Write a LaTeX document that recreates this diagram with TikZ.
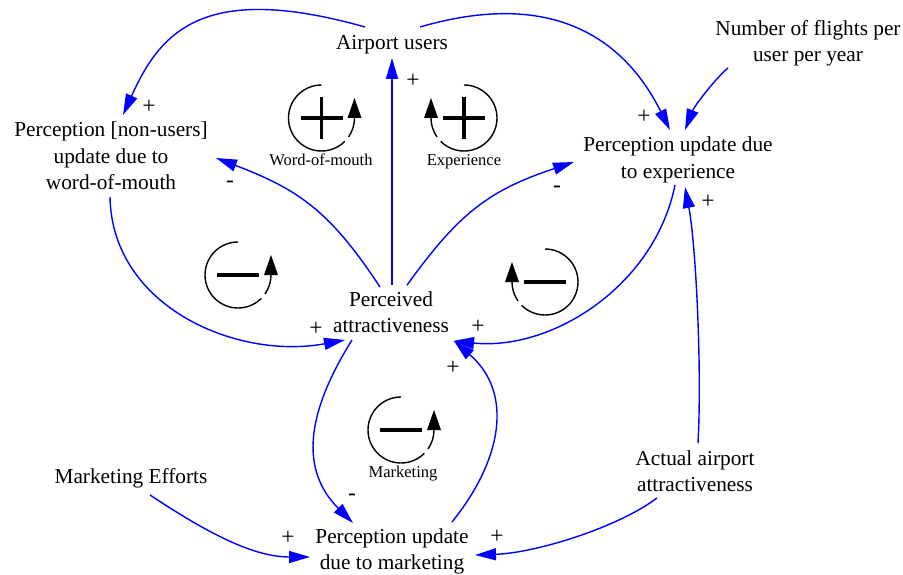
\documentclass[tikz,border=0pt]{standalone}
\usepackage{fontspec}
\setmainfont{Liberation Serif}
\usetikzlibrary{arrows.meta}

% loop symbols: open circle with an arrowhead, counter-clockwise or clockwise
\newcommand{\loopccw}[1]{%
  \draw[loopline] ([shift={(90:33pt)}]#1) arc[start angle=90,end angle=315,radius=33pt];
  \draw[loopline] ([shift={(325:33pt)}]#1) arc[start angle=325,end angle=360,radius=33pt];
  \fill ([shift={(26pt,0pt)}]#1) -- ++(14pt,0pt) -- ++(-7pt,20pt) -- cycle;}
\newcommand{\loopcw}[1]{%
  \draw[loopline] ([shift={(90:33pt)}]#1) arc[start angle=90,end angle=-135,radius=33pt];
  \draw[loopline] ([shift={(-145:33pt)}]#1) arc[start angle=-145,end angle=-180,radius=33pt];
  \fill ([shift={(-40pt,0pt)}]#1) -- ++(14pt,0pt) -- ++(-7pt,20pt) -- cycle;}
\newcommand{\signplus}[1]{%
  \draw[polsign] ([shift={(-21pt,0pt)}]#1) -- ++(42pt,0pt);
  \draw[polsign] ([shift={(0pt,-21pt)}]#1) -- ++(0pt,42pt);}
\newcommand{\signminus}[1]{%
  \draw[polsign] ([shift={(-21pt,0pt)}]#1) -- ++(42pt,0pt);}

\begin{document}
\begin{tikzpicture}[x=1pt,y=-1pt,
  var/.style={align=center,inner sep=0pt,font=\fontsize{21.3}{26.5}\selectfont},
  link/.style={draw=blue,line width=1.4pt,-{Triangle[length=21pt,width=12pt]}},
  pol/.style={font=\fontsize{23.5}{26.5}\selectfont,inner sep=0pt},
  looplabel/.style={font=\fontsize{16.5}{20}\selectfont,inner sep=0pt,anchor=base},
  loopline/.style={line width=1.4pt},
  polsign/.style={line width=3.2pt},
]
\useasboundingbox (0,0) rectangle (903,575);

% variables
\node[var] (users)     at (392,45.2)  {Airport users};
\node[var] (flights)   at (808,43.4)  {Number of flights per\\user per year};
\node[var] (nonusers)  at (111,156.2) {Perception [non-users]\\update due to\\word-of-mouth};
\node[var] (exp)       at (678,160)   {Perception update due\\to experience};
\node[var] (perceived) at (391,312.2) {Perceived\\attractiveness};
\node[var] (mkteff)    at (131,478.5) {Marketing Efforts};
\node[var] (mkt)       at (392,551.4) {Perception update\\due to marketing};
\node[var] (actual)    at (695,471.2) {Actual airport\\attractiveness};

% causal links
\draw[link] ([shift={(-27,-18.2)}]users.center) .. controls (202,-19) and (160,33) .. ([shift={(12,-41.2)}]nonusers.center);
\draw[link] ([shift={(28,-18.2)}]users.center) .. controls (554,-12) and (625,40) .. ([shift={(-8,-30)}]exp.center);
\draw[link] ([shift={(-80,24.6)}]flights.center) .. controls (713,81) and (694,107) .. ([shift={(7,-30)}]exp.center);
\draw[link] ([shift={(1,-27.2)}]perceived.center) -- ([shift={(0,12.8)}]users.center);
\draw[link] ([shift={(-11,-25.2)}]perceived.center) .. controls (330.5,212) and (300,190) .. ([shift={(105,1.8)}]nonusers.center);
\draw[link] ([shift={(16,-27)}]perceived.center) .. controls (459.5,212) and (490,190) .. ([shift={(-104,2)}]exp.center);
\draw[link] ([shift={(-1,40.8)}]nonusers.center) .. controls (112,307) and (237,360) .. ([shift={(-46,27.8)}]perceived.center);
\draw[link] ([shift={(-3,25)}]exp.center) .. controls (655,285) and (553,351) .. ([shift={(62,28.8)}]perceived.center);
\draw[link] ([shift={(-39,27.8)}]perceived.center) .. controls (309.6,408) and (297,467) .. ([shift={(-39,-28.4)}]mkt.center);
\draw[link] ([shift={(60,-29.4)}]mkt.center) .. controls (502,460) and (514,393) .. ([shift={(63,28.8)}]perceived.center);
\draw[link] ([shift={(19,16.5)}]mkteff.center) .. controls (200,528) and (250,557) .. ([shift={(-82,5.6)}]mkt.center);
\draw[link] ([shift={(-38,26.8)}]actual.center) .. controls (617,528) and (535,553) .. ([shift={(83,3.6)}]mkt.center);
\draw[link] ([shift={(3,-28.2)}]actual.center) .. controls (702,370) and (696,245) .. ([shift={(7,27)}]exp.center);

% link polarities
\node[pol] (p1)  at (149,107) {+};
\node[pol] (p2)  at (413,81)  {+};
\node[pol] (p3)  at (644,117) {+};
\node[pol] (p4)  at (708,202) {+};
\node[pol] (p5)  at (230,184) {-};
\node[pol] (p6)  at (557,189) {-};
\node[pol] (p7)  at (316,329) {+};
\node[pol] (p8)  at (478,327) {+};
\node[pol] (p9)  at (453,368) {+};
\node[pol] (p10) at (352,497) {-};
\node[pol] (p11) at (288,538) {+};
\node[pol] (p12) at (497,537) {+};

% feedback loops
\coordinate (womloop) at (321.5,118);
\coordinate (exploop) at (464,118);
\coordinate (bleft)   at (238,275);
\coordinate (bright)  at (545,282);
\coordinate (mktloop) at (401,430);

\loopccw{womloop} \signplus{womloop}
\loopcw{exploop}  \signplus{exploop}
\loopccw{bleft}   \signminus{bleft}
\loopcw{bright}   \signminus{bright}
\loopccw{mktloop} \signminus{mktloop}

\node[looplabel] (womlabel) at (321,166) {Word-of-mouth};
\node[looplabel] (explabel) at (464,166) {Experience};
\node[looplabel] (mktlabel) at (403,477) {Marketing};
\end{tikzpicture}
\end{document}
